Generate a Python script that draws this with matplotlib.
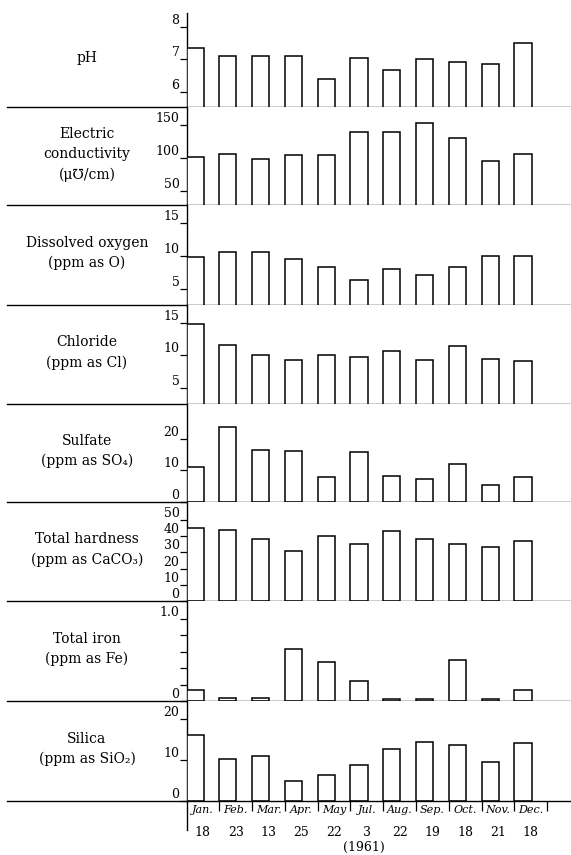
import numpy as np
import matplotlib
matplotlib.use('Agg')
import matplotlib.pyplot as plt

plt.rcParams['font.family'] = ['DejaVu Serif', 'DejaVu Sans']

# sampling dates (1961)
months = ['Jan.', 'Feb.', 'Mar.', 'Apr.', 'May', 'Jul.', 'Aug.', 'Sep.', 'Oct.', 'Nov.', 'Dec.']
days = ['18', '23', '13', '25', '22', '3', '22', '19', '18', '21', '18']

ph = [7.35, 7.1, 7.1, 7.1, 6.4, 7.05, 6.65, 7.0, 6.9, 6.85, 7.5]
conductivity = [101, 106, 98, 104, 104, 140, 139, 153, 130, 95, 106]
oxygen = [9.9, 10.6, 10.6, 9.6, 8.3, 6.4, 8.1, 7.1, 8.4, 10.0, 10.0]
chloride = [14.8, 11.6, 10.0, 9.3, 10.0, 9.8, 10.7, 9.3, 11.4, 9.4, 9.2]
sulfate = [11.0, 23.7, 16.3, 16.1, 8.0, 15.7, 8.3, 7.3, 12.0, 5.3, 7.9]
hardness = [45, 44, 38, 31, 40, 35, 43, 38, 35, 33.5, 37]
iron = [0.13, 0.04, 0.04, 0.63, 0.47, 0.24, 0.02, 0.02, 0.5, 0.02, 0.13]
silica = [16.2, 10.3, 11.0, 4.9, 6.4, 8.7, 12.8, 14.5, 13.7, 9.5, 14.3]

labels = [
    'pH',
    'Electric\nconductivity\n(\u03bc\u2127/cm)',
    'Dissolved oxygen\n(ppm as O)',
    'Chloride\n(ppm as Cl)',
    'Sulfate\n(ppm as SO\u2084)',
    'Total hardness\n(ppm as CaCO\u2083)',
    'Total iron\n(ppm as Fe)',
    'Silica\n(ppm as SiO\u2082)',
]
series = [ph, conductivity, oxygen, chloride, sulfate, hardness, iron, silica]
ylims = [(5.51, 8.43), (29, 176.5), (2.6, 17.8), (2.5, 17.8),
         (0, 31), (0, 61), (0, 1.22), (0, 24.5)]
yticks = [[6, 7, 8], [50, 100, 150], [5, 10, 15], [5, 10, 15],
          [0, 10, 20], [0, 10, 20, 30, 40, 50], [0, 0.2, 0.4, 0.6, 0.8, 1.0], [0, 10, 20]]
yticklabels = [['6', '7', '8'], ['50', '100', '150'], ['5', '10', '15'], ['5', '10', '15'],
               ['0', '10', '20'], ['0', '10', '20', '30', '40', '50'],
               ['0', '', '', '', '', '1.0'], ['0', '10', '20']]

# panel top / baseline in pixels
panels_px = [(12.7, 107.5), (107.5, 205), (205, 305), (305, 404),
             (404, 502), (502, 601), (601, 701), (701, 801)]

W, H = 571, 855
x0_px = 186.5
fig = plt.figure(figsize=(W / 100, H / 100), dpi=100)
fig.patch.set_facecolor('white')

x = np.arange(len(months))
left_ext = -(x0_px - 7) / (W - x0_px)

for i, (lab, vals) in enumerate(zip(labels, series)):
    top, base = panels_px[i]
    ax = fig.add_axes([x0_px / W, 1 - base / H, (W - x0_px) / W, (base - top) / H])
    ax.bar(x, vals, width=0.52, align='edge', facecolor='white',
           edgecolor='black', linewidth=1.1, zorder=3)
    ax.set_xlim(0, (W - x0_px) / 32.8)
    ax.set_ylim(*ylims[i])
    for s in ['top', 'right', 'bottom']:
        ax.spines[s].set_visible(False)
    ax.spines['left'].set_linewidth(1.0)
    ax.set_yticks(yticks[i])
    ax.set_yticklabels(yticklabels[i], fontsize=9)
    ax.tick_params(axis='y', direction='out', length=5, width=0.9, pad=0)
    for t in ax.get_yticklabels():
        t.set_va('bottom')
    # separator line through the whole width
    ax.axhline(ylims[i][0], xmin=left_ext, xmax=1, color='black',
               linewidth=1.0, clip_on=False, zorder=4)

    fig.text(87 / W, 1 - ((top + base) / 2 - 2) / H, lab, ha='center', va='center',
             fontsize=10, linespacing=1.55, multialignment='center')

    if i == len(series) - 1:
        ax.set_xticks(np.arange(1, len(months) + 1))
        ax.set_xticklabels([])
        ax.tick_params(axis='x', direction='out', length=7, width=0.9)
        ax.axvline(0, ymin=-0.29, ymax=0, color='black', linewidth=1.0, clip_on=False)
        tr = ax.get_xaxis_transform()
        for j in range(len(months)):
            ax.text(j + 0.5, -0.09, months[j], transform=tr, ha='center', va='center',
                    fontsize=8, style='italic')
            ax.text(j + 0.5, -0.31, days[j], transform=tr, ha='center', va='center',
                    fontsize=9)
        ax.text(5.4, -0.46, '(1961)', transform=tr, ha='center', va='center', fontsize=9)
    else:
        ax.set_xticks([])

fig.savefig('out.png', dpi=100, facecolor='white')
